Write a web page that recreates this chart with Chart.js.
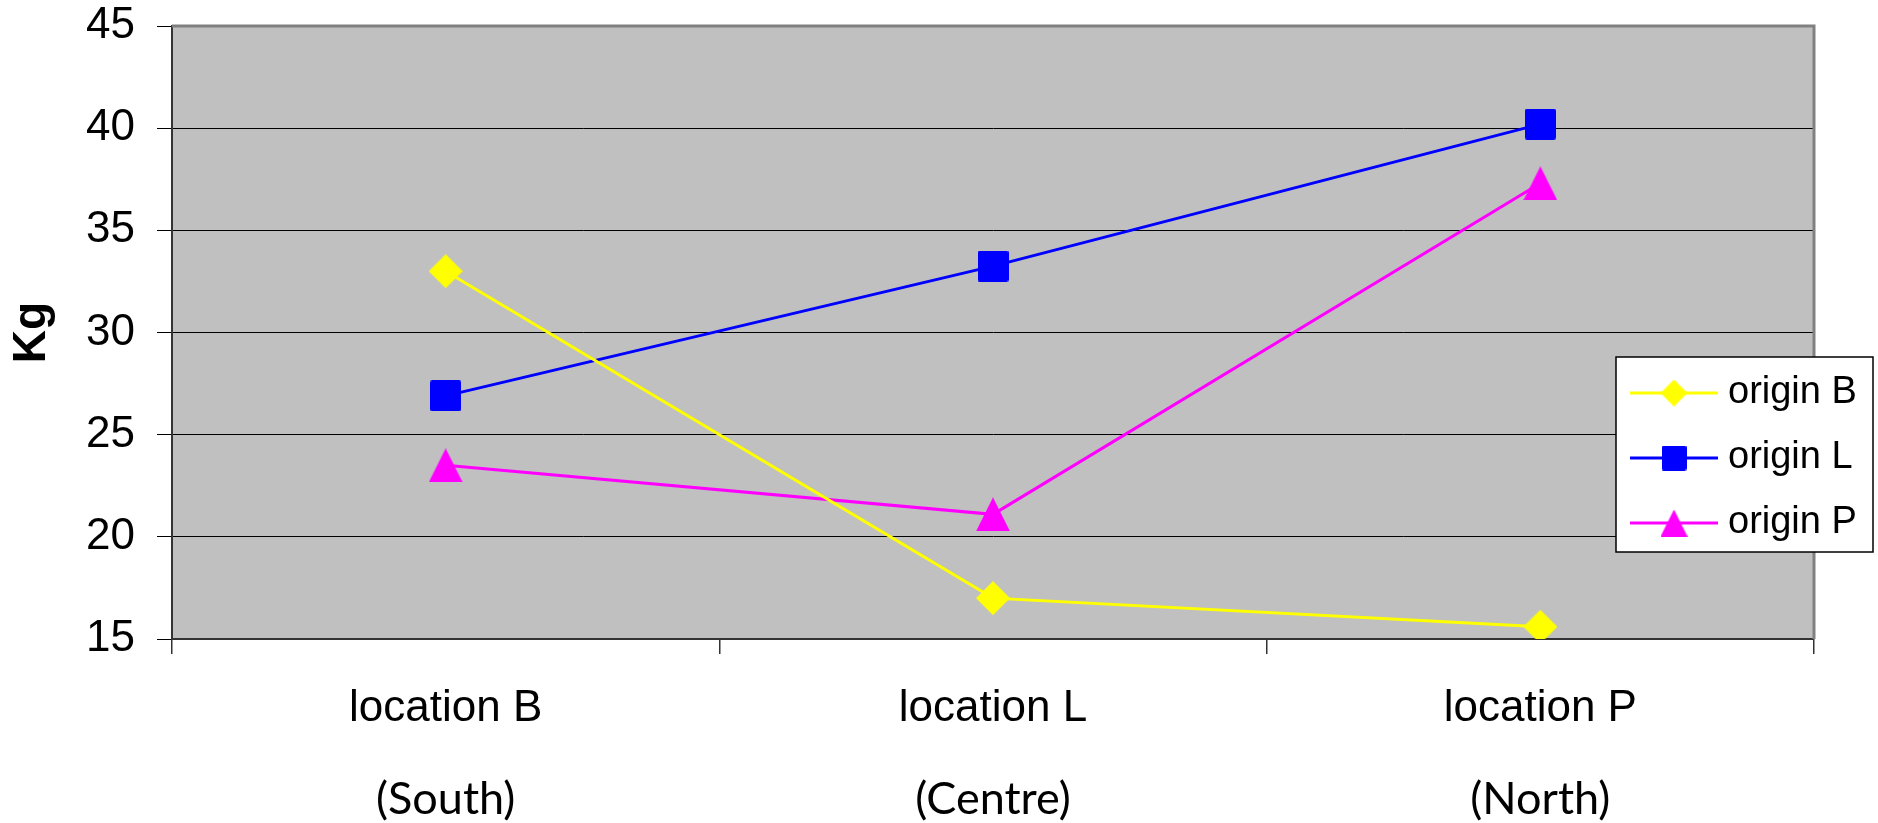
<!DOCTYPE html>
<html>
<head>
<meta charset="utf-8">
<title>Kg by location and origin</title>
<script src="https://cdn.jsdelivr.net/npm/chart.js@4/dist/chart.umd.min.js"></script>
<style>
  html, body { margin: 0; padding: 0; background: #ffffff; }
  #wrap { width: 1878px; height: 823px; }
</style>
</head>
<body>
<div id="wrap"><canvas id="chart" width="1878" height="823"></canvas></div>
<script>
// Categories along the x axis and the region note printed under each one
const locations = ['location B', 'location L', 'location P'];
const regionNotes = ['(South)', '(Centre)', '(North)'];

// Weight (Kg) for each origin, per location
const originB = [33.0, 17.0, 15.6];
const originL = [26.9, 33.25, 40.2];
const originP = [23.5, 21.1, 37.3];

const seriesNames = ['origin B', 'origin L', 'origin P'];

// Y axis range and step
const yMin = 15;
const yMax = 45;
const yStep = 5;

const SANS = "'Liberation Sans', Arial, Helvetica, sans-serif";
const NOTE_FONT = "Lato, 'Open Sans', sans-serif";

// Marker glyphs drawn on small canvases so they can be used as point styles
function makeMarker(shape, color, size) {
  const c = document.createElement('canvas');
  c.width = size;
  c.height = size;
  const g = c.getContext('2d');
  g.fillStyle = color;
  g.beginPath();
  if (shape === 'diamond') {
    g.moveTo(size / 2, 0);
    g.lineTo(size, size / 2);
    g.lineTo(size / 2, size);
    g.lineTo(0, size / 2);
  } else if (shape === 'square') {
    const r = 2;
    g.moveTo(r, 0);
    g.lineTo(size - r, 0);
    g.quadraticCurveTo(size, 0, size, r);
    g.lineTo(size, size - r);
    g.quadraticCurveTo(size, size, size - r, size);
    g.lineTo(r, size);
    g.quadraticCurveTo(0, size, 0, size - r);
    g.lineTo(0, r);
    g.quadraticCurveTo(0, 0, r, 0);
  } else {
    g.moveTo(size / 2, 0);
    g.lineTo(size, size);
    g.lineTo(0, size);
  }
  g.closePath();
  g.fill();
  return c;
}

const styles = [
  { color: '#FFFF00', shape: 'diamond', size: 34, keySize: 27 },
  { color: '#0000FF', shape: 'square', size: 31, keySize: 25 },
  { color: '#FF00FF', shape: 'triangle', size: 34, keySize: 27 }
];
styles.forEach(s => {
  s.marker = makeMarker(s.shape, s.color, s.size);
  s.keyMarker = makeMarker(s.shape, s.color, s.keySize);
});

// Grey plot area fill
const plotFill = {
  id: 'plotFill',
  beforeDraw(chart) {
    const { ctx, chartArea: a } = chart;
    ctx.save();
    ctx.fillStyle = '#C0C0C0';
    ctx.fillRect(a.left, a.top, a.right - a.left, a.bottom - a.top);
    ctx.restore();
  }
};

// Grey frame on the top and right sides of the plot area
const plotFrame = {
  id: 'plotFrame',
  beforeDatasetsDraw(chart) {
    const { ctx, chartArea: a } = chart;
    ctx.save();
    ctx.strokeStyle = '#808080';
    ctx.lineWidth = 3;
    ctx.beginPath();
    ctx.moveTo(a.left, a.top);
    ctx.lineTo(a.right, a.top);
    ctx.lineTo(a.right, a.bottom);
    ctx.stroke();
    ctx.restore();
  }
};

// Boxed key with a line sample and marker for each series
const insetKey = {
  id: 'insetKey',
  afterDraw(chart) {
    const { ctx, chartArea: a } = chart;
    const left = a.right - 198;
    const top = a.top + 331;
    const width = 257;
    const height = 195;
    const rowGap = 65;
    ctx.save();
    ctx.fillStyle = '#ffffff';
    ctx.fillRect(left, top, width, height);
    ctx.strokeStyle = '#000000';
    ctx.lineWidth = 1.5;
    ctx.strokeRect(left, top, width, height);
    chart.data.datasets.forEach((ds, i) => {
      const s = styles[i];
      const cy = top + 36 + i * rowGap;
      ctx.strokeStyle = ds.borderColor;
      ctx.lineWidth = 3;
      ctx.beginPath();
      ctx.moveTo(left + 14, cy);
      ctx.lineTo(left + 102, cy);
      ctx.stroke();
      Chart.helpers.drawPoint(ctx, { pointStyle: s.keyMarker, radius: s.keySize / 2, rotation: 0, borderWidth: 0 }, left + 58, cy);
      ctx.fillStyle = '#000000';
      ctx.font = '38px ' + SANS;
      ctx.textAlign = 'left';
      ctx.textBaseline = 'middle';
      ctx.fillText(ds.label, left + 112, cy);
    });
    ctx.restore();
  }
};

const seriesValues = [originB, originL, originP];
const datasets = seriesValues.map((vals, i) => ({
  label: seriesNames[i],
  data: vals,
  borderColor: styles[i].color,
  backgroundColor: styles[i].color,
  borderWidth: 3,
  tension: 0,
  pointStyle: styles[i].marker,
  pointRadius: styles[i].size / 2,
  pointHoverRadius: styles[i].size / 2,
  pointBorderWidth: 0,
  xAxisID: 'x',
  yAxisID: 'y'
}));

new Chart(document.getElementById('chart'), {
  type: 'line',
  data: { labels: locations, datasets },
  options: {
    responsive: false,
    maintainAspectRatio: false,
    animation: false,
    events: [],
    layout: { padding: { top: 26, right: 64, left: 0, bottom: 0 } },
    plugins: {
      legend: { display: false },
      tooltip: { enabled: false }
    },
    scales: {
      x: {
        type: 'category',
        position: 'bottom',
        offset: true,
        weight: 0,
        grid: {
          offset: true,
          drawOnChartArea: false,
          drawTicks: true,
          tickLength: 15,
          color: '#333333',
          lineWidth: 1.5
        },
        border: { display: true, color: '#333333', width: 2 },
        ticks: {
          color: '#000000',
          font: { family: SANS, size: 44, lineHeight: 1.2 },
          padding: 28,
          maxRotation: 0,
          autoSkip: false
        },
        afterFit(scale) { scale.height = 115; }
      },
      x2: {
        type: 'category',
        position: 'bottom',
        labels: regionNotes,
        offset: true,
        weight: 1,
        grid: { display: false },
        border: { display: false },
        ticks: {
          color: '#000000',
          font: { family: NOTE_FONT, size: 45, lineHeight: 1.2 },
          padding: 10,
          maxRotation: 0,
          autoSkip: false
        },
        afterFit(scale) { scale.height = 69; }
      },
      y: {
        type: 'linear',
        position: 'left',
        min: yMin,
        max: yMax,
        grid: {
          color: '#000000',
          lineWidth: 1,
          drawTicks: true,
          tickLength: 15
        },
        border: { display: true, color: '#333333', width: 2 },
        ticks: {
          stepSize: yStep,
          color: '#000000',
          font: { family: SANS, size: 44, lineHeight: 1.15 },
          padding: 22
        },
        title: {
          display: true,
          text: 'Kg',
          color: '#000000',
          font: { family: SANS, size: 46, weight: 'bold', lineHeight: 1.2 },
          padding: { top: 5, bottom: 0 }
        },
        afterFit(scale) {
          scale.width = 172;
          // the top label may sit in the layout padding above the plot
          scale.paddingTop = 0;
          scale.paddingBottom = 0;
        }
      }
    }
  },
  plugins: [plotFill, plotFrame, insetKey]
});
</script>
</body>
</html>
